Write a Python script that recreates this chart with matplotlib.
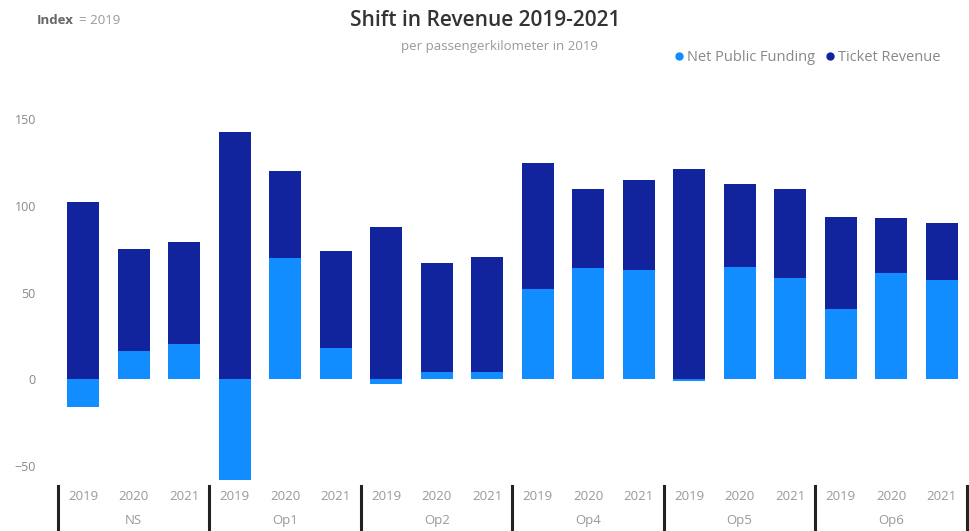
import matplotlib
matplotlib.use("Agg")
import matplotlib.pyplot as plt
from matplotlib.lines import Line2D
import numpy as np

plt.rcParams['font.family'] = ['Open Sans', 'DejaVu Sans']

# ---- data: index = 2019, per passenger-km in 2019 ----
operators = ['NS', 'Op1', 'Op2', 'Op4', 'Op5', 'Op6']
years = ['2019', '2020', '2021']
net_public_funding = [-16, 16, 20,
                      -58, 70, 18,
                      -3, 4, 4,
                      52, 64, 63,
                      -1, 65, 58.5,
                      40.5, 61, 57]
ticket_revenue = [102, 59, 59,
                  142.5, 50, 56,
                  88, 63, 66.5,
                  73, 46, 52,
                  121.5, 47.5, 51,
                  53, 32, 33]

c_funding = '#118DFF'
c_ticket = '#12239E'

fig = plt.figure(figsize=(9.7, 5.31), dpi=100)
ax = fig.add_axes([0.0598, 0.0904, 0.937, 0.7175])

x = np.arange(len(net_public_funding))
npf = np.array(net_public_funding, dtype=float)
tr = np.array(ticket_revenue, dtype=float)

ax.bar(x, npf, width=0.63, color=c_funding, zorder=2)
ax.bar(x, tr, width=0.63, bottom=np.maximum(npf, 0), color=c_ticket, zorder=2)

ax.set_xlim(-0.5, len(x) - 0.5)
ax.set_ylim(-60, 160)
ax.set_yticks([-50, 0, 50, 100, 150])
ax.tick_params(axis='y', length=0, pad=16, labelcolor='#888888', labelsize=9)
for s in ax.spines.values():
    s.set_visible(False)

# year labels under each bar
ax.set_xticks(x)
ax.set_xticklabels(years * len(operators))
ax.tick_params(axis='x', length=0, pad=5, labelcolor='#999999', labelsize=9.5)

# operator labels and group separators
trans = ax.get_xaxis_transform()
for i, op in enumerate(operators):
    ax.text(3 * i + 1, -0.098, op, transform=trans, ha='center', va='center',
            color='#999999', fontsize=9.5)
for b in np.arange(len(operators) + 1) * 3 - 0.5:
    ax.plot([b, b], [-0.008, -0.13], transform=trans, color='#222222',
            lw=2.2, clip_on=False)

# titles
fig.text(0.5, 0.962, 'Shift in Revenue 2019-2021', ha='center', va='center',
         fontsize=15, color='#333333', fontweight='semibold')
fig.text(0.515, 0.913, 'per passengerkilometer in 2019', ha='center', va='center',
         fontsize=9.5, color='#999999')
fig.text(0.038, 0.962, 'Index', ha='left', va='center', fontsize=9.5,
         color='#666666', fontweight='bold')
fig.text(0.081, 0.962, '= 2019', ha='left', va='center', fontsize=9.5,
         color='#999999')

# legend along the top right
handles = [Line2D([], [], marker='o', ls='', color=c_funding, markersize=5),
           Line2D([], [], marker='o', ls='', color=c_ticket, markersize=5)]
fig.legend(handles, ['Net Public Funding', 'Ticket Revenue'], loc='center left',
           bbox_to_anchor=(0.679, 0.891), ncol=2, frameon=False,
           handletextpad=0.05, columnspacing=0.5, fontsize=10.5,
           labelcolor='#888888', handlelength=1.0)

fig.savefig('out.png', dpi=100, facecolor='white')
